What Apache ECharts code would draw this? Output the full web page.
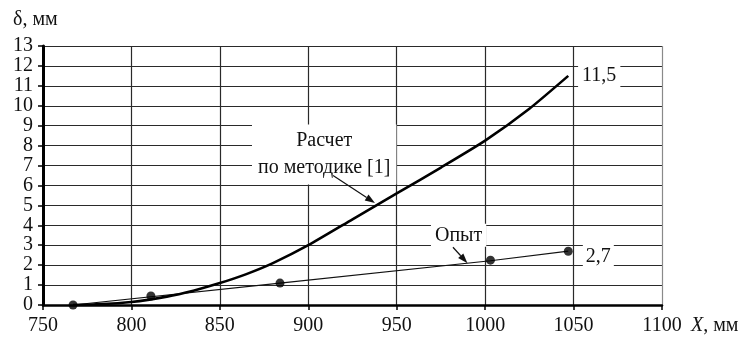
<!DOCTYPE html>
<html><head><meta charset="utf-8">
<script src="https://cdn.jsdelivr.net/npm/echarts@6/dist/echarts.min.js"></script>
<style>html,body{margin:0;padding:0;background:#fff}#c{width:747px;height:340px}</style>
</head><body><div id="c"></div>
<script>
const xTickValues = [750, 800, 850, 900, 950, 1000, 1050, 1100];
const yTickValues = [0, 1, 2, 3, 4, 5, 6, 7, 8, 9, 10, 11, 12, 13];
// Calculated curve ("Расчет по методике [1]")
const calcX = [767, 780, 800, 820, 835, 850, 865, 880, 900, 925, 950, 975, 1000, 1025, 1047];
const calcY = [0, 0.03, 0.15, 0.42, 0.72, 1.1, 1.55, 2.1, 3.0, 4.3, 5.6, 6.9, 8.25, 9.85, 11.5];
// Experimental points ("Опыт")
const expX = [767, 811, 884, 1003, 1047];
const expY = [0, 0.45, 1.1, 2.25, 2.7];
// Thin experimental line
const trendX = [767, 884, 1003, 1047];
const trendY = [0, 1.1, 2.22, 2.7];
// Annotations (data coordinates)
const noteTexts = ['Расчет\nпо методике [1]', 'Опыт', '11,5', '2,7'];
const noteX = [909, 985, 1064.5, 1064];
const noteY = [7.55, 3.5, 11.5, 2.4];
const arrowFromX = [914, 981.8];
const arrowFromY = [6.5, 2.9];
const arrowToX = [937.7, 990];
const arrowToY = [5.12, 2.1];

const FONT = "'Liberation Serif', 'Times New Roman', serif";
const FS = 20;
const chart = echarts.init(document.getElementById('c'));
const xColors = xTickValues.map((v, i) => i === xTickValues.length - 1 ? '#8a8a8a' : '#2a2a2a');

chart.setOption({
  animation: false,
  backgroundColor: '#fff',
  grid: {left: 43, right: 85, top: 46, bottom: 35},
  xAxis: {
    type: 'value', min: xTickValues[0], max: xTickValues[xTickValues.length - 1], interval: 50,
    axisLine: {show: true, onZero: false, lineStyle: {color: '#000', width: 2.5}},
    axisTick: {show: true, length: 5, lineStyle: {color: '#000', width: 1.5}},
    axisLabel: {color: '#111', fontFamily: FONT, fontSize: FS, margin: 11, formatter: v => String(v)},
    splitLine: {show: true, lineStyle: {color: xColors, width: 1.2}}
  },
  yAxis: {
    type: 'value', min: yTickValues[0], max: yTickValues[yTickValues.length - 1], interval: 1,
    axisLine: {show: true, onZero: false, lineStyle: {color: '#000', width: 3}},
    axisTick: {show: true, length: 5, lineStyle: {color: '#000', width: 1.5}},
    axisLabel: {color: '#111', fontFamily: FONT, fontSize: FS, margin: 10, formatter: v => String(v)},
    splitLine: {show: true, lineStyle: {color: '#2a2a2a', width: 1.2}}
  },
  series: [
    {
      type: 'line', data: trendX.map((x, i) => [x, trendY[i]]), showSymbol: false,
      lineStyle: {color: '#111', width: 1.2}, z: 3
    },
    {
      type: 'line', data: calcX.map((x, i) => [x, calcY[i]]), showSymbol: false, smooth: 0.2,
      lineStyle: {color: '#000', width: 2.6}, z: 4
    },
    {
      type: 'scatter', data: expX.map((x, i) => [x, expY[i]]), symbolSize: 9,
      itemStyle: {color: '#000'}, z: 5
    }
  ]
});

function px(x, y) { return chart.convertToPixel({gridIndex: 0}, [x, y]); }
const graphics = [];
// axis names
graphics.push({type: 'text', left: 13, top: 10, z: 20,
  style: {text: 'δ, мм', font: FS + 'px ' + FONT, fill: '#111'}});
graphics.push({type: 'text', left: 691, top: 316, z: 20,
  style: {text: '{i|X}, мм', font: FS + 'px ' + FONT, fill: '#111',
    rich: {i: {fontStyle: 'italic', font: 'italic ' + FS + 'px ' + FONT, fill: '#111'}}}});
// annotation labels with white boxes
const pads = [[2, 6, 4, 6], [0, 4, 2, 4], [1, 4, 5, 4], [2, 3, 3, 3]];
noteTexts.forEach((t, i) => {
  const p = px(noteX[i], noteY[i]);
  graphics.push({type: 'text', x: p[0], y: p[1], z: 20,
    style: {text: t, font: FS + 'px ' + FONT, fill: '#111', align: 'center', verticalAlign: 'middle',
      lineHeight: i === 0 ? 27 : 21, backgroundColor: '#fff', padding: pads[i]}});
});
// arrows
arrowFromX.forEach((fx, i) => {
  const a = px(fx, arrowFromY[i]);
  const b = px(arrowToX[i], arrowToY[i]);
  const dx = b[0] - a[0], dy = b[1] - a[1];
  const len = Math.sqrt(dx * dx + dy * dy);
  const ux = dx / len, uy = dy / len;
  const hl = 10, hw = 3.5;
  const bx = b[0] - ux * hl, by = b[1] - uy * hl;
  graphics.push({type: 'line', z: 21, shape: {x1: a[0], y1: a[1], x2: bx, y2: by},
    style: {stroke: '#111', lineWidth: 1.2}});
  graphics.push({type: 'polygon', z: 21, shape: {points: [[b[0], b[1]],
    [bx - uy * hw, by + ux * hw], [bx + uy * hw, by - ux * hw]]}, style: {fill: '#111'}});
});
chart.setOption({graphic: graphics});
</script>
</body></html>
